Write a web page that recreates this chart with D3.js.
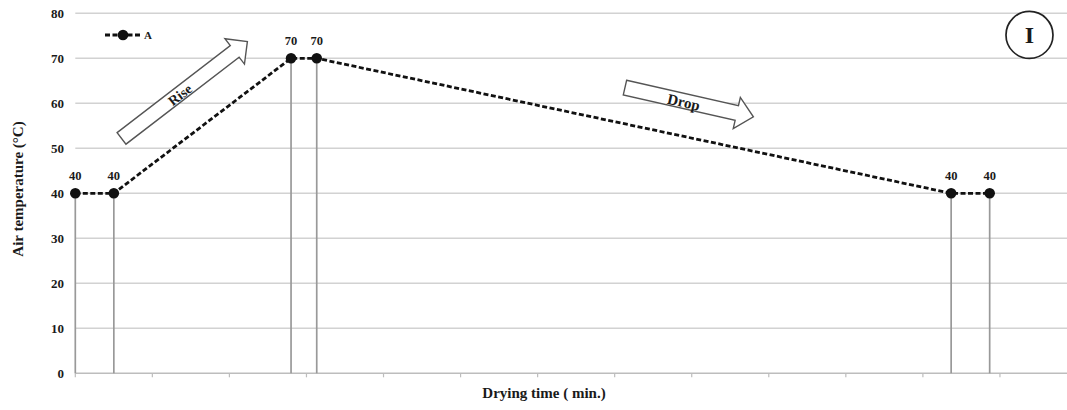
<!DOCTYPE html>
<html>
<head>
<meta charset="utf-8">
<script src="https://cdn.jsdelivr.net/npm/d3@7/dist/d3.min.js"></script>
<style>
  html, body { margin: 0; padding: 0; background: #fff; }
  svg { display: block; }
  text { font-family: "Liberation Serif", "Times New Roman", serif; font-weight: bold; fill: #1a1a1a; }
</style>
</head>
<body>
<svg id="chart" width="1067" height="410"></svg>
<script>
// Drying schedule A: air temperature held, raised, dropped, held
const seriesName = "A";
const dryingTime = [0, 30, 168, 188, 682, 712];   // min (axis unlabelled in source)
const airTemp = [40, 40, 70, 70, 40, 40];          // °C
const yTicks = [0, 10, 20, 30, 40, 50, 60, 70, 80];
const xTicks = d3.range(0, 781, 60);

// annotation anchors, in data units
const riseArrow = { from: [36, 52.2], to: [134, 73.7], label: "Rise" };
const dropArrow = { from: [428, 63.5], to: [528, 57.0], label: "Drop" };
const panelTag = { at: [743, 75.2], label: "I" };

const width = 1067, height = 410;
const svg = d3.select("#chart");

const x = d3.scaleLinear().domain([0, 780]).range([75.3, 1077]);
const y = d3.scaleLinear().domain([0, 80]).range([373.3, 13.3]);

// gridlines
svg.append("g")
  .selectAll("line")
  .data(yTicks)
  .join("line")
  .attr("x1", x(0))
  .attr("x2", width)
  .attr("y1", (d) => y(d))
  .attr("y2", (d) => y(d))
  .attr("stroke", (d) => (d === 0 ? "#bdbdbd" : "#d2d2d2"))
  .attr("stroke-width", 1.6);

// y tick labels
svg.append("g")
  .selectAll("text")
  .data(yTicks)
  .join("text")
  .attr("x", 64)
  .attr("y", (d) => y(d))
  .attr("dy", "0.35em")
  .attr("text-anchor", "end")
  .attr("font-size", 13)
  .text((d) => d);

// x tick marks (no labels)
svg.append("g")
  .selectAll("line")
  .data(xTicks)
  .join("line")
  .attr("x1", (d) => x(d))
  .attr("x2", (d) => x(d))
  .attr("y1", y(0))
  .attr("y2", y(0) + 4)
  .attr("stroke", "#bdbdbd")
  .attr("stroke-width", 1.2);

const pts = dryingTime.map((t, i) => ({ t, v: airTemp[i] }));

// drop lines
svg.append("g")
  .selectAll("line")
  .data(pts)
  .join("line")
  .attr("x1", (d) => x(d.t))
  .attr("x2", (d) => x(d.t))
  .attr("y1", (d) => y(d.v))
  .attr("y2", y(0))
  .attr("stroke", "#999")
  .attr("stroke-width", 1.7);

// series line
svg.append("path")
  .datum(pts)
  .attr("fill", "none")
  .attr("stroke", "#111")
  .attr("stroke-width", 2.8)
  .attr("stroke-dasharray", "5,2.5")
  .attr("d", d3.line().x((d) => x(d.t)).y((d) => y(d.v)));

svg.append("g")
  .selectAll("circle")
  .data(pts)
  .join("circle")
  .attr("cx", (d) => x(d.t))
  .attr("cy", (d) => y(d.v))
  .attr("r", 5.3)
  .attr("fill", "#111");

// data labels
svg.append("g")
  .selectAll("text")
  .data(pts)
  .join("text")
  .attr("x", (d) => x(d.t))
  .attr("y", (d) => y(d.v) - 13)
  .attr("text-anchor", "middle")
  .attr("font-size", 12.5)
  .text((d) => d.v);

// legend
const lg = svg.append("g");
lg.append("line")
  .attr("x1", 105).attr("x2", 140).attr("y1", 35).attr("y2", 35)
  .attr("stroke", "#111").attr("stroke-width", 2.8).attr("stroke-dasharray", "5,2.5");
lg.append("circle").attr("cx", 123).attr("cy", 35).attr("r", 5.3).attr("fill", "#111");
lg.append("text").attr("x", 144).attr("y", 35).attr("dy", "0.35em")
  .attr("font-size", 11).text(seriesName);

// hollow block arrows
function blockArrow(a, shaftW, headW, headL, fontSize) {
  const x0 = x(a.from[0]), y0 = y(a.from[1]);
  const x1 = x(a.to[0]), y1 = y(a.to[1]);
  const len = Math.hypot(x1 - x0, y1 - y0);
  const ang = (Math.atan2(y1 - y0, x1 - x0) * 180) / Math.PI;
  const s = shaftW / 2, h = headW / 2, b = len - headL;
  const g = svg.append("g").attr("transform", `translate(${x0},${y0}) rotate(${ang})`);
  g.append("path")
    .attr("d", `M0,${-s}L${b},${-s}L${b},${-h}L${len},0L${b},${h}L${b},${s}L0,${s}Z`)
    .attr("fill", "#fff")
    .attr("stroke", "#555")
    .attr("stroke-width", 1.4);
  g.append("text")
    .attr("x", len * 0.46)
    .attr("y", 1)
    .attr("dy", "0.35em")
    .attr("text-anchor", "middle")
    .attr("font-size", fontSize)
    .text(a.label);
}
blockArrow(riseArrow, 14.5, 32, 16, 14);
blockArrow(dropArrow, 15, 32, 17, 15);

// panel tag
svg.append("circle")
  .attr("cx", x(panelTag.at[0]))
  .attr("cy", y(panelTag.at[1]))
  .attr("r", 23.5)
  .attr("fill", "#fff")
  .attr("stroke", "#222")
  .attr("stroke-width", 1.7);
svg.append("text")
  .attr("x", x(panelTag.at[0]))
  .attr("y", y(panelTag.at[1]))
  .attr("dy", "0.35em")
  .attr("text-anchor", "middle")
  .attr("font-size", 24)
  .text(panelTag.label);

// axis titles
svg.append("text")
  .attr("transform", "translate(23,189) rotate(-90)")
  .attr("text-anchor", "middle")
  .attr("font-size", 15)
  .text("Air temperature (°C)");

svg.append("text")
  .attr("x", 544)
  .attr("y", 398)
  .attr("text-anchor", "middle")
  .attr("font-size", 15)
  .text("Drying time ( min.)");
</script>
</body>
</html>
